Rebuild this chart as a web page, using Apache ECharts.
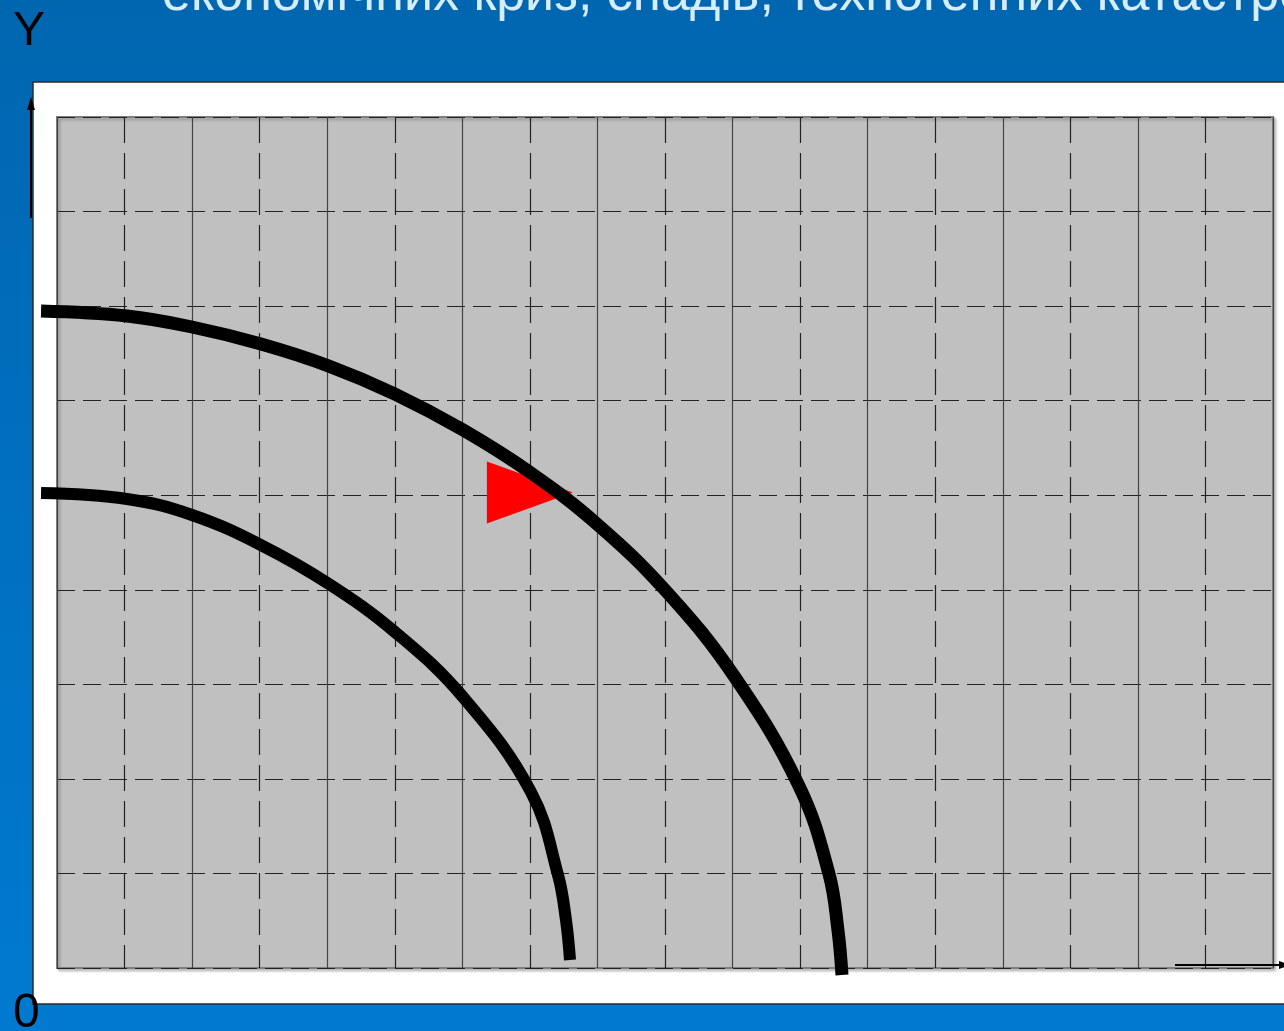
<!DOCTYPE html>
<html>
<head>
<meta charset="utf-8">
<script src="https://cdn.jsdelivr.net/npm/echarts@6/dist/echarts.min.js"></script>
<style>
  html, body { margin: 0; padding: 0; }
  #main { width: 1284px; height: 1031px; }
</style>
</head>
<body>
<div id="main"></div>
<script>
// дані кривих (в одиницях сітки 9 x 9)
var outerX = [-0.118, 0.518, 0.999, 1.51, 2.013, 2.502, 3.005, 3.508, 3.997, 4.507, 5.011, 5.492, 5.714, 5.78, 5.81];
var outerY = [6.948, 6.895, 6.779, 6.599, 6.366, 6.07, 5.69, 5.235, 4.695, 3.987, 3.088, 1.925, 0.994, 0.402, -0.074];
var innerX = [-0.118, 0.518, 0.999, 1.51, 2.013, 2.502, 3.005, 3.508, 3.708, 3.767, 3.797];
var innerY = [5.023, 4.96, 4.791, 4.473, 4.061, 3.553, 2.866, 1.861, 0.984, 0.508, 0.085];
var markerPos = [3.5, 5.03];
var titleText = 'економічних криз, спадів, техногенних катастроф';

function pairs(xs, ys) {
    var out = [];
    for (var i = 0; i < xs.length; i++) {
        out.push([xs[i], ys[i]]);
    }
    return out;
}

var chart = echarts.init(document.getElementById('main'));

// друга (невидима) сітка на все полотно з тим самим масштабом, щоб криві не обрізались
var hidden = { show: false };
var option = {
    animation: false,
    backgroundColor: new echarts.graphic.LinearGradient(0, 0, 0, 1, [
        { offset: 0, color: '#0066b0' },
        { offset: 1, color: '#007ad0' }
    ]),
    grid: [{
        left: 57, top: 117, right: 11, bottom: 63,
        show: true,
        backgroundColor: '#c0c0c0',
        borderColor: '#808080',
        borderWidth: 2,
        shadowColor: 'rgba(0,0,0,0.25)',
        shadowBlur: 3,
        shadowOffsetX: 2,
        shadowOffsetY: 2
    }, {
        left: 0, top: 0, right: 0, bottom: 0
    }],
    xAxis: [{
        type: 'value', min: 0, max: 9, interval: 1, gridIndex: 0,
        axisLine: hidden, axisTick: hidden, axisLabel: hidden,
        splitLine: { show: true, lineStyle: { color: '#444', width: 1.2 } },
        minorTick: { show: false, splitNumber: 2 },
        minorSplitLine: { show: true, lineStyle: { color: '#222', width: 1.2, type: [26, 10] } }
    }, {
        type: 'value', gridIndex: 1, min: -57 / (1216 / 9), max: 9 + 11 / (1216 / 9),
        axisLine: hidden, axisTick: hidden, axisLabel: hidden, splitLine: hidden
    }],
    yAxis: [{
        type: 'value', min: 0, max: 9, interval: 1, gridIndex: 0,
        axisLine: hidden, axisTick: hidden, axisLabel: hidden,
        splitLine: { show: true, lineStyle: { color: '#222', width: 1.2, type: [18, 8] } }
    }, {
        type: 'value', gridIndex: 1, min: -63 / (851 / 9), max: 9 + 117 / (851 / 9),
        axisLine: hidden, axisTick: hidden, axisLabel: hidden, splitLine: hidden
    }],
    graphic: [
        { type: 'rect', z: -10, shape: { x: 33, y: 82, width: 1270, height: 922 },
          style: { fill: '#fff', stroke: '#2a2a2a', lineWidth: 1.5 } },
        { type: 'text', left: 162, top: -30, z: 5,
          style: { text: titleText, fill: '#d6ecff', font: '52px "Liberation Sans", Arial, sans-serif' } },
        { type: 'text', left: 13, top: 8, z: 5,
          style: { text: 'Y', fill: '#000', font: '48px "Liberation Sans", Arial, sans-serif' } },
        { type: 'text', left: 13, top: 990, z: 5,
          style: { text: '0', fill: '#000', font: '48px "Liberation Sans", Arial, sans-serif' } },
        // стрілки осей
        { type: 'line', z: 5, shape: { x1: 31, y1: 218, x2: 31, y2: 106 },
          style: { stroke: '#000', lineWidth: 2 } },
        { type: 'polygon', z: 5, shape: { points: [[31, 97], [27, 110], [35, 110]] },
          style: { fill: '#000' } },
        { type: 'line', z: 5, shape: { x1: 1175, y1: 965, x2: 1280, y2: 965 },
          style: { stroke: '#000', lineWidth: 2 } },
        { type: 'polygon', z: 5, shape: { points: [[1290, 965], [1279, 961], [1279, 969]] },
          style: { fill: '#000' } }
    ],
    series: [
        {
            type: 'scatter',
            z: 1,
            xAxisIndex: 0, yAxisIndex: 0,
            data: [markerPos],
            symbol: 'path://M0,0 L0,62 L86,31 Z',
            symbolSize: [86, 62],
            itemStyle: { color: '#ff0000', opacity: 1 }
        },
        {
            type: 'line',
            z: 3,
            xAxisIndex: 1, yAxisIndex: 1,
            smooth: 0.4,
            symbol: 'none',
            data: pairs(outerX, outerY),
            lineStyle: { color: '#000', width: 13, cap: 'butt' }
        },
        {
            type: 'line',
            z: 3,
            xAxisIndex: 1, yAxisIndex: 1,
            smooth: 0.4,
            symbol: 'none',
            data: pairs(innerX, innerY),
            lineStyle: { color: '#000', width: 12, cap: 'butt' }
        }
    ]
};

chart.setOption(option);
</script>
</body>
</html>
